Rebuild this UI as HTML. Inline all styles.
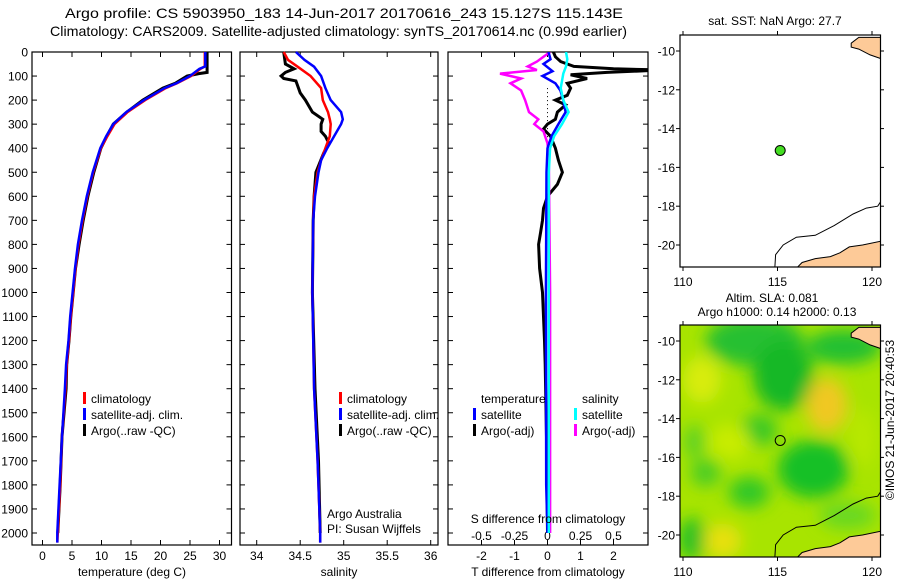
<!DOCTYPE html>
<html><head><meta charset="utf-8"><style>
body{margin:0;background:#fff;}
svg{display:block;font-family:"Liberation Sans",sans-serif;}
text{fill:#000;}
</style></head><body>
<svg id="c" width="900" height="580" viewBox="0 0 900 580" xmlns="http://www.w3.org/2000/svg">
<defs>
<clipPath id="mapclip1"><rect x="680" y="35" width="200" height="232"/></clipPath>
<clipPath id="mapclip2"><rect x="680" y="325" width="200" height="232"/></clipPath>
<clipPath id="p3clip"><rect x="448" y="52" width="200" height="493"/></clipPath>
<filter id="blur" x="-20%" y="-20%" width="140%" height="140%"><feGaussianBlur stdDeviation="8"/></filter>
</defs>
<text x="65" y="18" font-size="14" textLength="558" lengthAdjust="spacingAndGlyphs">Argo profile: CS 5903950_183 14-Jun-2017 20170616_243 15.127S 115.143E</text>
<text x="50" y="36" font-size="14" textLength="577" lengthAdjust="spacingAndGlyphs">Climatology: CARS2009. Satellite-adjusted climatology: synTS_20170614.nc (0.99d earlier)</text>
<g id="g"></g>
</svg>
<script>
// ---- data ----
const depthTargo=[0,85,90,100,130,150,200,250,300,350,400,500,600,700,800,900,1000,1100,1200,1300,1400,1600,1800,2000];
const tempArgo=[27.9,27.9,26.5,24.5,22.5,20.4,17,14.3,12,10.9,9.9,8.7,7.7,6.9,6.2,5.6,5.2,4.8,4.5,4.1,4.0,3.3,3.0,2.6];
const depthTclim=[0,60,70,100,130,150,200,250,300,350,400,500,600,700,800,900,1000,1100,1200,1300,1400,1600,1800,2000,2040];
const tempClim=[27.5,27.5,26.8,25.2,22.8,20.9,17.4,14.4,12.2,11.0,9.9,8.6,7.6,6.8,6.1,5.6,5.2,4.8,4.5,4.1,3.9,3.3,3.0,2.6,2.5];
const tempSat=[27.6,27.6,26.6,25.0,22.7,20.7,17.2,14.2,12.0,10.8,9.8,8.5,7.5,6.7,6.0,5.5,5.1,4.7,4.4,4.0,3.8,3.3,2.9,2.5,2.5];
const depthS=[0,33,61,100,150,200,250,280,300,350,400,450,500,600,700,1000,1400,1700,2000,2040];
const salClim=[34.31,34.36,34.47,34.62,34.74,34.76,34.82,34.84,34.85,34.84,34.79,34.74,34.70,34.66,34.65,34.64,34.66,34.70,34.73,34.73];
const salSat=[34.45,34.55,34.66,34.74,34.79,34.85,34.97,34.99,34.97,34.89,34.81,34.74,34.71,34.67,34.65,34.64,34.66,34.70,34.73,34.73];
const depthSA=[0,50,70,85,100,110,120,150,170,200,250,280,300,330,350,380,420,500,600,700,1000,1400,1700,2000];
const salArgo=[34.31,34.33,34.43,34.33,34.28,34.31,34.45,34.48,34.50,34.56,34.64,34.76,34.74,34.74,34.79,34.83,34.77,34.68,34.66,34.65,34.64,34.67,34.71,34.73];
const depthDT=[0,30,50,80,100,130,160,200,250,300,350,400,500,1000,1800,2000];
const dTsat=[0.03,0.09,-0.12,0.15,-0.15,0.24,0.39,0.48,0.55,0.33,0.12,0,-0.03,-0.05,-0.04,0];
const depthDTA=[0,20,40,60,70,75,85,95,110,130,150,180,200,220,250,280,300,320,350,400,450,500,550,600,650,700,750,800,900,1000,1100,1200,1300,1600,2000];
const dTargo=[0.18,0.24,0.4,0.8,2.0,3.5,1.8,0.7,1.2,0.6,0.7,0.6,0.24,0.55,0.3,0.24,0,-0.12,0.09,0.24,0.33,0.45,0.3,0,-0.12,-0.15,-0.21,-0.27,-0.24,-0.15,-0.12,-0.09,-0.07,-0.03,0];
const depthDS=[0,20,40,60,75,90,110,130,160,200,250,280,300,330,380,450,1000,2000];
const dSargo=[0.02,-0.03,-0.08,-0.15,-0.08,-0.36,-0.2,-0.28,-0.2,-0.17,-0.14,-0.07,-0.1,-0.03,0,0.01,0.02,0.02];
const depthDSS=[0,30,60,90,120,150,200,250,300,350,400,500,1000,2000];
const dSsat=[0.14,0.15,0.14,0.12,0.11,0.1,0.12,0.16,0.11,0.05,0.02,0.01,0.01,0.01];
const tTicks=[0,5,10,15,20,25,30];
const sTicks=[34,34.5,35,35.5,36];
const dtTicks=[-2,-1,0,1,2];
const dsTicks=[-0.5,-0.25,0,0.25,0.5];
const dsTickLabels=["-0.5","-0.25","0","0.25","0.5"];
const depthTicks=[0,100,200,300,400,500,600,700,800,900,1000,1100,1200,1300,1400,1500,1600,1700,1800,1900,2000];
const lonTicks=[110,115,120];
const latTicks=[-10,-12,-14,-16,-18,-20];
const argoLon=115.143, argoLat=-15.127;

// ---- helpers ----
const NS="http://www.w3.org/2000/svg";
const G=document.getElementById('g');
function el(tag,attrs,parent){const e=document.createElementNS(NS,tag);for(const k in attrs)e.setAttribute(k,attrs[k]);(parent||G).appendChild(e);return e;}
const yD=d=>52+d*0.2405;
function scale(d0,d1,r0,r1){return v=>r0+(v-d0)*(r1-r0)/(d1-d0);}
const xT=scale(0,30,42.5,219.5);
const xS=scale(34,36,256.7,430.7);
const xDT=scale(0,2,547.5,613.5);
const xDS=scale(0,0.5,547.5,613.5);

function box(x0,x1,y0,y1,name){
  const r=el('rect',{x:x0,y:y0,width:x1-x0,height:y1-y0,fill:'none',stroke:'#000','stroke-width':1.2});
  
  
}
function line(xs,ds,xf,color,w,name,clip){
  let p='';
  for(let i=0;i<xs.length;i++){p+=(i?'L':'M')+xf(xs[i]).toFixed(1)+','+yD(ds[i]).toFixed(1);}
  const e=el('path',{d:p,fill:'none',stroke:color,'stroke-width':w,'stroke-linejoin':'miter'});
  if(clip)e.setAttribute('clip-path','url(#'+clip+')');
  
  
}
function text(x,y,s,size,anchor,name){
  const t=el('text',{x:x,y:y,'font-size':size,'text-anchor':anchor||'start'});
  t.textContent=s;
  
  
  return t;
}
function depthAxis(x0,x1,labels){
  depthTicks.forEach(d=>{
    const y=yD(d);
    el('line',{x1:x0,x2:x0+5,y1:y,y2:y,stroke:'#000'});
    el('line',{x1:x1-5,x2:x1,y1:y,y2:y,stroke:'#000'});
    if(labels)text(x0-4,y+4.5,String(d),12,'end','depth-tick-label');
  });
}
function xAxis(ticks,xf,x0,x1,labs,name){
  ticks.forEach((v,i)=>{
    const x=xf(v);
    el('line',{x1:x,x2:x,y1:52,y2:57,stroke:'#000'});
    el('line',{x1:x,x2:x,y1:540,y2:545,stroke:'#000'});
    text(x,560,labs?labs[i]:String(v),12,'middle',name);
  });
}
function legendMark(x,y,color){
  const r=el('rect',{x:x,y:y-11,width:3,height:12,fill:color});
  
  
}

// ---- panel 1 temperature ----
box(32,231.5,52,545,'temperature-panel');
depthAxis(32,231.5,true);
xAxis(tTicks,xT,32,231.5,null,'temperature-tick-label');
line(tempArgo,depthTargo,xT,'#000',3,'argo-temperature-line');
line(tempClim,depthTclim,xT,'#f00',2.5,'climatology-temperature-line');
line(tempSat,depthTclim,xT,'#00f',2.5,'satellite-temperature-line');
text(132,576,'temperature (deg C)',12,'middle','temperature-axis-title');
legendMark(83,403,'#f00');text(91,403,'climatology',12,'start','legend-climatology');
legendMark(83,419,'#00f');text(91,419,'satellite-adj. clim.',12,'start','legend-satellite');
legendMark(83,435,'#000');text(91,435,'Argo(..raw -QC)',12,'start','legend-argo');

// ---- panel 2 salinity ----
box(240,438,52,545,'salinity-panel');
depthAxis(240,438,false);
xAxis(sTicks,xS,240,438,null,'salinity-tick-label');
line(salArgo,depthSA,xS,'#000',3,'argo-salinity-line');
line(salClim,depthS,xS,'#f00',2.5,'climatology-salinity-line');
line(salSat,depthS,xS,'#00f',2.5,'satellite-salinity-line');
text(339,576,'salinity',12,'middle','salinity-axis-title');
legendMark(339,403,'#f00');text(347,403,'climatology',12,'start','legend-climatology');
legendMark(339,419,'#00f');text(347,419,'satellite-adj. clim.',12,'start','legend-satellite');
legendMark(339,435,'#000');text(347,435,'Argo(..raw -QC)',12,'start','legend-argo');
text(327,518,'Argo Australia',12,'start','credit-argo-australia');
text(327,533,'PI: Susan Wijffels',12,'start','credit-pi');

// ---- panel 3 differences ----
box(448,648,52,545,'difference-panel');
depthAxis(448,648,false);
dtTicks.forEach(v=>{const x=xDT(v);
  el('line',{x1:x,x2:x,y1:540,y2:545,stroke:'#000'});
  text(x,560,String(v),12,'middle','t-diff-tick-label');});
dsTicks.forEach((v,i)=>{const x=xDS(v);
  el('line',{x1:x,x2:x,y1:52,y2:57,stroke:'#000'});
  text(x,540,dsTickLabels[i],12,'middle','s-diff-tick-label');});
const z=el('line',{x1:xDT(0),x2:xDT(0),y1:yD(150),y2:yD(360),stroke:'#000','stroke-dasharray':'1,3'});

line(dTargo,depthDTA,xDT,'#000',3,'argo-t-diff-line','p3clip');
line(dSargo,depthDS,xDS,'#f0f',2.5,'argo-s-diff-line','p3clip');
line(dTsat,depthDT,xDT,'#00f',2.5,'satellite-t-diff-line','p3clip');
line(dSsat,depthDSS,xDS,'#0ff',2.5,'satellite-s-diff-line','p3clip');
text(548,523,'S difference from climatology',12,'middle','s-diff-axis-title');
text(548,576,'T difference from climatology',12,'middle','t-diff-axis-title');
text(481,403,'temperature',12,'start','legend-temperature-header');
legendMark(473,419,'#00f');text(481,419,'satellite',12,'start','legend-t-satellite');
legendMark(473,435,'#000');text(481,435,'Argo(-adj)',12,'start','legend-t-argo');
text(582,403,'salinity',12,'start','legend-salinity-header');
legendMark(574,419,'#0ff');text(582,419,'satellite',12,'start','legend-s-satellite');
legendMark(574,435,'#f0f');text(582,435,'Argo(-adj)',12,'start','legend-s-argo');

// ---- maps ----
function mapFns(top){const xL=scale(110,120,683,872);const yL=scale(-10,-20,top+16,top+210);return [xL,yL];}
const land1=[[118.9,-9.6],[119.3,-9.3],[120.5,-9.3],[120.5,-10.4],[119.9,-10.2],[119.3,-9.9],[118.9,-9.8]];
const land2=[[115.9,-21.3],[116.3,-20.9],[117.0,-20.7],[117.8,-20.6],[118.3,-20.4],[118.8,-20.1],[119.5,-20.0],[120.5,-19.8],[120.5,-21.3]];
const iso=[[114.85,-21.3],[114.9,-20.5],[115.3,-20.0],[116.0,-19.6],[117.0,-19.5],[118.0,-19.0],[119.0,-18.4],[119.7,-18.1],[120.3,-18.0],[120.5,-17.7]];
function poly(pts,xL,yL,close){return pts.map((p,i)=>(i?'L':'M')+xL(p[0]).toFixed(1)+','+yL(p[1]).toFixed(1)).join('')+(close?'Z':'');}
const slaBlobs=[[113.8,-10.0,2.6,1.3,'#28c030'],[115.3,-11.8,1.6,1.8,'#18b828'],[118.5,-10.3,2.0,0.9,'#20c030'],[114,-14.6,1.0,0.8,'#38c828'],[116.9,-16.6,1.9,1.5,'#18c028'],[113.5,-17.8,1.1,0.8,'#30c828'],[111.2,-16.8,0.8,0.7,'#48cc28'],[110.5,-20.2,0.7,1.1,'#20c028'],[110.6,-15.2,0.5,0.9,'#58d028'],[117.6,-13.3,1.1,1.4,'#f0c820'],[112.1,-20.3,1.0,0.9,'#e8e010'],[111.0,-12,1.0,1.2,'#d8ec10'],[112.5,-15.2,1.1,0.9,'#c8ec00'],[119.5,-15,0.7,1.5,'#b8e800'],[118.7,-19.0,1.5,0.7,'#68d820']];
function drawMap(top,clip,name,sla){
  const [xL,yL]=mapFns(top);
  const g=el('g',{'clip-path':'url(#'+clip+')'});
  
  el('rect',{x:680,y:top,width:200,height:232,fill:sla?'#a8e400':'#fff'},g);
  if(sla){const bg=el('g',{filter:'url(#blur)'},g);
    slaBlobs.forEach(b=>{el('ellipse',{cx:xL(b[0]),cy:yL(b[1]),rx:b[2]*18.9,ry:b[3]*19.4,fill:b[4]},bg);});}
  el('path',{d:poly(iso,xL,yL,false),fill:'none',stroke:'#000','stroke-width':1},g);
  el('path',{d:poly(land1,xL,yL,true),fill:'#fdca98',stroke:'#000','stroke-width':1},g);
  el('path',{d:poly(land2,xL,yL,true),fill:'#fdca98',stroke:'#000','stroke-width':1},g);
  box(680,880.5,top,top+232,name+'-frame');
  lonTicks.forEach(v=>{const x=xL(v);el('line',{x1:x,x2:x,y1:top,y2:top-4,stroke:'#000'});el('line',{x1:x,x2:x,y1:top+232,y2:top+236,stroke:'#000'});
    text(x,top+251,String(v),12,'middle','longitude-tick-label');});
  latTicks.forEach(v=>{const y=yL(v);el('line',{x1:676,x2:680,y1:y,y2:y,stroke:'#000'});el('line',{x1:880,x2:884,y1:y,y2:y,stroke:'#000'});
    text(675,y+4.5,String(v),12,'end','latitude-tick-label');});
  const c=el('circle',{cx:xL(argoLon),cy:yL(argoLat),r:5,fill:sla?'none':'#44dd22',stroke:'#000','stroke-width':1});
  
}
drawMap(35,'mapclip1','sst-map',false);
drawMap(325,'mapclip2','sla-map',true);
text(775,25,'sat. SST: NaN Argo: 27.7',12,'middle','sst-map-title');
text(772,302,'Altim. SLA: 0.081',12,'middle','sla-map-title');
text(777,316,'Argo h1000: 0.14 h2000: 0.13',12,'middle','sla-map-subtitle');
const im=text(0,0,'©IMOS 21-Jun-2017 20:40:53',12,'middle','timestamp-label');
im.setAttribute('transform','translate(894,420) rotate(-90)');
</script>
</body></html>
